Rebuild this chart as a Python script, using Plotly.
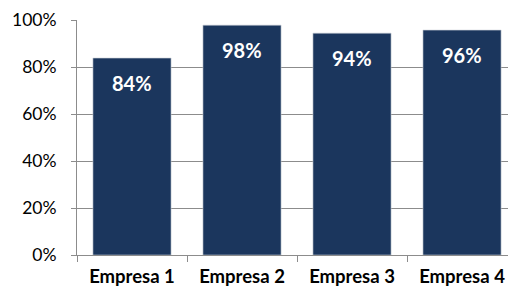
import plotly.graph_objects as go

categories = ["Empresa 1", "Empresa 2", "Empresa 3", "Empresa 4"]
values = [0.838, 0.978, 0.944, 0.957]
labels = ["84%", "98%", "94%", "96%"]
y_ticks = [0, 0.2, 0.4, 0.6, 0.8, 1.0]
y_tick_text = ["0%", "20%", "40%", "60%", "80%", "100%"]

bar_color = "#1b365d"
grid_color = "#8c8c8c"
font_family = "Lato, 'Noto Sans', sans-serif"

fig = go.Figure()
fig.add_trace(go.Bar(
    x=categories, y=values, width=0.71,
    marker=dict(color=bar_color, line=dict(color="#c8cdd4", width=0.6)),
    hoverinfo="skip",
))

for c, v, t in zip(categories, values, labels):
    fig.add_annotation(x=c, y=v, text=f"<b>{t}</b>", showarrow=False,
                       yanchor="middle", yshift=-25,
                       font=dict(family=font_family, size=20, color="white"))

fig.update_layout(
    width=508, height=290,
    margin=dict(l=77, r=0, t=20, b=35),
    paper_bgcolor="white", plot_bgcolor="white",
    showlegend=False,
    font=dict(family=font_family, color="black"),
)
fig.update_xaxes(
    range=[-0.5, 3.418], automargin=False,
    tickmode="array", tickvals=categories,
    ticktext=[f"<b>{c}</b>" for c in categories],
    tickson="boundaries", ticks="outside", ticklen=6, tickcolor=grid_color,
    showline=True, linecolor=grid_color, linewidth=1,
    showgrid=False, tickfont=dict(size=18.5, family=font_family),
    ticklabelstandoff=5,
)
fig.update_yaxes(
    range=[0, 1.0], automargin=False,
    tickvals=y_ticks, ticktext=y_tick_text,
    ticks="outside", ticklen=5, tickcolor=grid_color,
    showline=True, linecolor=grid_color, linewidth=1,
    showgrid=True, gridcolor=grid_color, gridwidth=1,
    zeroline=False, tickfont=dict(size=17.5, family=font_family),
    ticklabelstandoff=11,
)

fig.write_html(
    "out.html",
    config={"displayModeBar": False},
    post_script="document.body.style.margin='0';document.body.style.overflow='hidden';",
)
